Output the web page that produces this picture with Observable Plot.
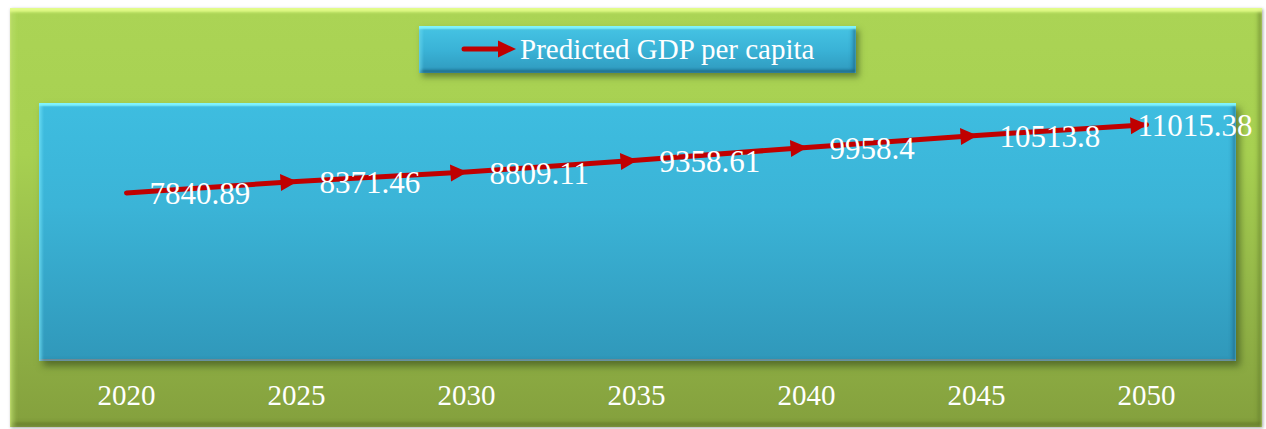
<!DOCTYPE html>
<html><head><meta charset="utf-8">
<script src="https://cdn.jsdelivr.net/npm/d3@7"></script>
<script src="https://cdn.jsdelivr.net/npm/@observablehq/plot@0.6"></script>
<style>
body{margin:0;background:#fff;}
#wrap{position:relative;width:1266px;height:429px;overflow:hidden;font-family:"Liberation Serif","Times New Roman",serif;}
#outer{position:absolute;left:10px;top:8px;width:1252px;height:419px;
  background:linear-gradient(#abd455,#a7d051 35%,#93b548 70%,#84a03d);
  box-shadow: inset 0 4px 3px rgba(230,255,140,0.95), inset 4px 0 4px rgba(200,235,120,0.55), inset -4px 0 4px rgba(90,115,40,0.45), inset 0 -4px 4px rgba(75,95,30,0.6), 1px 1px 3px rgba(0,0,0,0.35);}
#area{position:absolute;left:39px;top:103px;width:1197px;height:258px;
  background:linear-gradient(#3ebde0,#3bb4d7 40%,#3098ba);
  box-shadow: inset 0 3px 2px #80f4ff, inset 3px 0 3px rgba(120,230,250,0.55), inset -3px 0 4px rgba(20,80,110,0.55), inset 0 -2px 0 #7b8c92, 4px 5px 7px rgba(40,60,20,0.55);}
#legend{position:absolute;left:419px;top:26px;width:437px;height:47px;
  background:linear-gradient(#46c4e4,#3ab3d7 50%,#2f99bd);
  box-shadow: inset 0 3px 2px #80f4ff, inset 3px 0 3px rgba(120,230,250,0.5), inset -3px 0 4px rgba(20,80,110,0.55), inset 0 -3px 3px rgba(20,80,110,0.6), 3px 4px 6px rgba(40,60,20,0.5);}
#legend svg{position:absolute;left:41px;top:13px;}
#legend span{position:absolute;left:101px;top:7px;font-size:29px;color:#fff;white-space:nowrap;}
#chart{position:absolute;left:0;top:0;}
</style>
</head><body>
<div id="wrap">
  <div id="outer"></div>
  <div id="area"></div>
  <div id="legend">
    <svg width="60" height="20"><line x1="4" y1="10" x2="40" y2="10" stroke="#c00000" stroke-width="5" stroke-linecap="round"/><polygon points="38,1.5 56,10 38,18.5" fill="#c00000"/></svg>
    <span>Predicted GDP per capita</span>
  </div>
  <div id="chart"></div>
</div>
<script>
const years = ["2020","2025","2030","2035","2040","2045","2050"];
const gdp = [7840.89, 8371.46, 8809.11, 9358.61, 9958.4, 10513.8, 11015.38];
const labels = ["7840.89","8371.46","8809.11","9358.61","9958.4","10513.8","11015.38"];
const seriesName = "Predicted GDP per capita";
const data = years.map((y, i) => ({year: y, value: gdp[i], label: labels[i]}));
const inner = data.slice(0, -1);
const last = data.slice(-1);

const lineColor = "#c00000";
const plot = Plot.plot({
  width: 1266, height: 429,
  marginLeft: 39, marginRight: 33, marginTop: 103, marginBottom: 68,
  style: {background: "transparent", color: "white", fontFamily: "'Liberation Serif','Times New Roman',serif", overflow: "visible"},
  x: {domain: years, type: "band", padding: 0, axis: null},
  y: {domain: [0, 12000], axis: null},
  marks: [
    Plot.axisX({tickSize: 0, tickPadding: 23, fontSize: 29, fill: "white", label: null}),
    Plot.line(data, {x: "year", y: "value", stroke: lineColor, strokeWidth: 5, strokeLinecap: "round", strokeLinejoin: "round", markerMid: "arrow", markerEnd: "arrow"}),
    Plot.text(inner, {x: "year", y: "value", text: "label", textAnchor: "start", dx: 23, dy: 1.5, fontSize: 31, fill: "white"}),
    Plot.text(last, {x: "year", y: "value", text: "label", textAnchor: "start", dx: -9, dy: 1, fontSize: 31, fill: "white"})
  ]
});
// turn Plot's open arrow markers into filled arrowheads
plot.querySelectorAll("marker").forEach(m => {
  m.setAttribute("markerUnits", "userSpaceOnUse");
  m.setAttribute("viewBox", "-18 -10 20 20");
  m.setAttribute("markerWidth", 20);
  m.setAttribute("markerHeight", 20);
  m.setAttribute("fill", lineColor);
  m.setAttribute("stroke", "none");
  m.innerHTML = "";
  const p = document.createElementNS("http://www.w3.org/2000/svg", "path");
  p.setAttribute("d", "M-16,-8.5L1,0L-16,8.5Z");
  m.appendChild(p);
});
document.getElementById("chart").appendChild(plot);
</script>
</body></html>
